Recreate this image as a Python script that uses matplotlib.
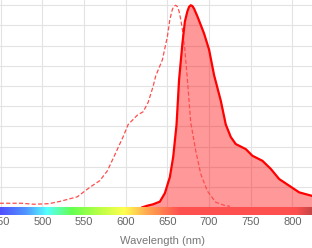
import numpy as np
import matplotlib
matplotlib.use("Agg")
from matplotlib import pyplot as plt
from matplotlib.colors import LinearSegmentedColormap

plt.rcParams['font.family'] = ['Liberation Sans', 'DejaVu Sans']
plt.rcParams['lines.scale_dashes'] = False

# excitation spectrum (dashed)
ex_wl = [449, 475, 490, 508, 521, 542, 557, 569, 578, 587, 597, 603, 614, 621,
         627, 633, 636, 644, 650, 653, 656, 658, 660, 662, 664, 666, 668, 671,
         674, 678, 684, 690, 698, 708, 718, 725]
ex_val = [2.0, 2.0, 1.5, 1.8, 2.9, 5.2, 9.9, 13.2, 18.0, 26.0, 35.0, 41.0, 45.6,
          47.3, 52.0, 60.0, 65.0, 73.0, 84.5, 93.0, 98.0, 99.6, 100.0, 99.3,
          97.0, 93.0, 88.0, 78.0, 63.0, 42.0, 28.0, 16.5, 8.0, 2.5, 1.0, 0.5]

# emission spectrum (solid, filled)
em_wl = [620, 626, 633, 641, 647, 653, 657, 659, 661, 664, 668, 671, 674, 676,
         678, 680, 682, 686, 694, 700, 706, 714, 720, 726, 732, 744, 752, 764,
         774, 784, 796, 808, 823]
em_val = [0.0, 0.8, 1.5, 2.8, 7.0, 15.0, 25.0, 33.0, 41.0, 63.0, 81.0, 92.0,
          97.0, 99.2, 100.0, 99.6, 98.3, 94.5, 86.0, 78.0, 65.4, 52.8, 41.0,
          34.8, 31.3, 28.8, 25.5, 23.0, 19.0, 14.0, 10.7, 7.4, 5.7]

x_ticks = [450, 500, 550, 600, 650, 700, 750, 800]
x_min, x_max = 449.3, 823.4

# spectrum colour bar stops
bar_wl = [449.3, 480, 505, 535, 570, 598, 625, 665, 805, 823.4]
bar_rgb = [(80, 80, 255), (80, 150, 255), (85, 255, 255), (100, 255, 80),
           (190, 255, 70), (255, 255, 80), (255, 170, 80), (255, 80, 80),
           (255, 80, 80), (200, 70, 70)]

W, H = 312, 248
fig = plt.figure(figsize=(W / 100, H / 100), dpi=100)

# main plot area: top of figure down to the zero line
ax = fig.add_axes([0, (H - 207.3) / H, 1, 207.3 / H])
ax.set_xlim(x_min, x_max)
ax.set_ylim(0, 102.6)
ax.set_xticks(x_ticks)
ax.set_yticks(np.arange(0, 101, 10))
ax.grid(True, color='#e3e3e3', lw=0.8)
ax.set_axisbelow(True)
ax.tick_params(length=0, labelbottom=False, labelleft=False)
for s in ax.spines.values():
    s.set_visible(False)

ax.fill_between(em_wl, em_val, color='#ff0000', alpha=0.4, lw=0, zorder=2)
ax.plot(ex_wl, ex_val, color='#ff4d4d', lw=0.9, dashes=(3, 1.6), zorder=3)
ax.plot(em_wl, em_val, color='#ff0000', lw=1.6, zorder=4, solid_joinstyle='round')

# colour bar under the plot
cax = fig.add_axes([0, (H - 215) / H, 1, 8.5 / H])
pos = [(w - x_min) / (x_max - x_min) for w in bar_wl]
cols = [tuple(c / 255 for c in rgb) for rgb in bar_rgb]
cmap = LinearSegmentedColormap.from_list('spec', list(zip(pos, cols)))
cax.imshow(np.linspace(0, 1, 512)[None, :], aspect='auto', cmap=cmap,
           extent=[x_min, x_max, 0, 1])
cax.set_xlim(x_min, x_max)
cax.set_xticks(x_ticks)
cax.set_xticklabels([str(t) for t in x_ticks])
cax.set_yticks([])
cax.tick_params(axis='x', length=0, pad=1.5, labelsize=8, labelcolor='#666666')
for s in cax.spines.values():
    s.set_visible(False)

fig.text(163 / W, 1 - 241.5 / H, 'Wavelength (nm)', ha='center', va='center',
         fontsize=8, color='#777777')

fig.savefig('out.png', dpi=100)
